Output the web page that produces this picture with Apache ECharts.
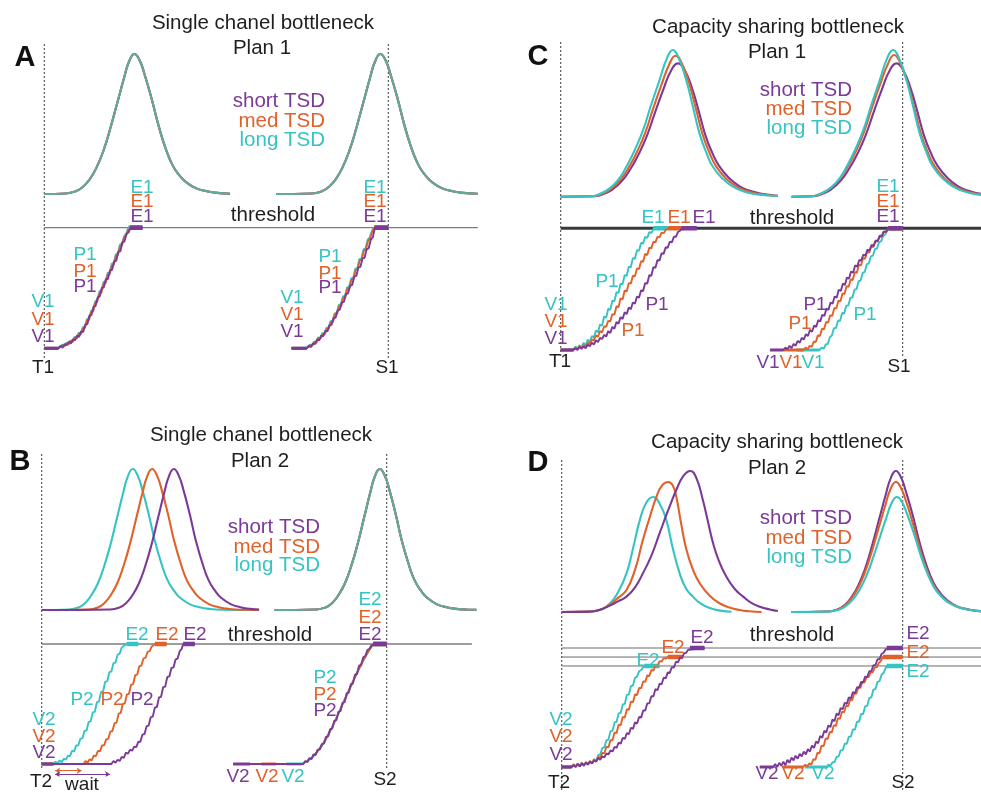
<!DOCTYPE html>
<html>
<head>
<meta charset="utf-8">
<title>Bottleneck plans</title>
<script src="https://cdn.jsdelivr.net/npm/echarts@6/dist/echarts.min.js"></script>
<style>
  html, body { margin: 0; padding: 0; background: #fff; }
  #chart { width: 981px; height: 792px; }
</style>
</head>
<body>
<div id="chart"></div>
<script>
// colours of the three TSD groups
const PURPLE = '#7b3a96', ORANGE = '#e0622a', CYAN = '#36c3c3', INK = '#1e1e1e';

// time marks: T (start) and S (deadline)
const tMark = 0, sMark = 100;

// ---------- Panel A : single channel, plan 1 ----------
const peakA1 = [[0,0],[6.2,0.4],[9.2,2],[11.2,5],[13.2,10.5],[15.2,19],[17.2,31],[19.2,47],[21.2,65],[23.2,83],[24.7,95],[26.2,100],[27.7,95.5],[29.2,85],[31.2,68],[33.2,49],[35.2,33],[37.2,21],[39.2,13.5],[41.2,8.5],[44.2,4],[47.2,2],[50.2,0.8],[54,0.2]];
const peakA2 = [[67.4,0],[77.7,0.4],[80.7,2],[82.7,5],[84.7,10.5],[86.7,19],[88.7,31],[90.7,47],[92.7,65],[94.7,83],[96.2,95],[97.7,100],[99.2,95.5],[100.7,85],[102.7,68],[104.7,49],[106.7,33],[108.7,21],[110.7,13.5],[112.7,8.5],[115.7,4],[118.7,2],[121.7,0.8],[126,0.2]];
const rampA1c = [[0,0],[4,0],[4.6,1.5],[5.2,3],[5.8,2],[6.4,4.5],[7,3.5],[7.6,6.5],[8.2,5.5],[8.8,9.5],[9.4,8.5],[10,13],[10.6,12.5],[11.2,17.5],[11.8,18],[12.4,24],[13,25],[13.6,31],[14.2,32],[14.8,39],[15.4,40],[16,47],[16.6,48],[17.2,55],[17.8,55.5],[18.4,62.5],[19,63],[19.6,70],[20.2,71],[20.8,78],[21.4,79],[22,86],[22.6,87],[23.2,93],[23.8,95],[24.4,100],[28.2,100]];
const rampA1o = [[0,0],[4,0],[4.6,1],[5.2,2.5],[5.8,1.5],[6.4,4],[7,3],[7.6,6],[8.2,5],[8.8,9],[9.4,8],[10,12],[10.6,11.5],[11.2,16.5],[11.8,17],[12.4,23],[13,23.5],[13.6,30],[14.2,30.5],[14.8,37.5],[15.4,38.5],[16,45.5],[16.6,46],[17.2,53],[17.8,54],[18.4,61],[19,61.5],[19.6,68.5],[20.2,69.5],[20.8,76.5],[21.4,77.5],[22,84.5],[22.6,85.5],[23.2,92],[23.8,93.5],[24.4,98.5],[24.8,100],[28.4,100]];
const rampA1p = [[0,0],[4.1,0],[4.7,2],[5.3,0.5],[5.9,3.5],[6.5,2.5],[7.1,5.5],[7.7,4],[8.3,7.5],[8.9,6.5],[9.5,10.5],[10.1,9.5],[10.7,14],[11.3,13.5],[11.9,19.5],[12.5,20],[13.1,27],[13.7,27.5],[14.3,34.5],[14.9,35],[15.5,42],[16.1,43],[16.7,50],[17.3,50.5],[17.9,57.5],[18.5,57.5],[19.1,64.5],[19.7,65],[20.3,72],[20.9,72.5],[21.5,80],[22.1,80.5],[22.7,88],[23.3,88.5],[23.9,95],[24.5,96],[25,100],[28.6,100]];
const rampA2c = [[71.9,0],[76,0],[76.6,1.5],[77.2,3],[77.8,2.5],[78.4,5.5],[79,5],[79.6,9],[80.2,8.5],[80.8,12.5],[81.4,12.5],[82,17],[82.6,17],[83.2,22.5],[83.8,23],[84.4,29],[85,29.5],[85.6,36],[86.2,36.5],[86.8,43],[87.4,43.5],[88,50.5],[88.6,51],[89.2,58],[89.8,58.5],[90.4,66],[91,66.5],[91.6,74],[92.2,74.5],[92.8,82],[93.4,83],[94,90],[94.6,92],[95.2,97],[95.8,100],[100,100]];
const rampA2o = [[71.9,0],[76.1,0],[76.7,1],[77.3,2.5],[77.9,2],[78.5,5],[79.1,4.5],[79.7,8.5],[80.3,8],[80.9,12],[81.5,11.5],[82.1,16],[82.7,16.5],[83.3,21.5],[83.9,22],[84.5,28],[85.1,28.5],[85.7,35],[86.3,35.5],[86.9,42],[87.5,42.5],[88.1,49.5],[88.7,50],[89.3,57],[89.9,57.5],[90.5,65],[91.1,65.5],[91.7,73],[92.3,73.5],[92.9,81],[93.5,82],[94.1,89],[94.7,91],[95.3,96.5],[95.9,100],[100,100]];
const rampA2p = [[71.9,0],[76.3,0],[76.9,2],[77.5,1],[78.1,4],[78.7,3.5],[79.3,7.5],[79.9,6.5],[80.5,10.5],[81.1,10],[81.7,14.5],[82.3,14],[82.9,19],[83.5,19.5],[84.1,25],[84.7,25.5],[85.3,31.5],[85.9,32],[86.5,38],[87.1,38.5],[87.7,45],[88.3,45.5],[88.9,52],[89.5,52.5],[90.1,59.5],[90.7,60],[91.3,67],[91.9,67.5],[92.5,74.5],[93.1,75],[93.7,82],[94.3,83],[94.9,90],[95.5,92],[96.1,100],[100,100]];
const levelsA = [100];

// ---------- Panel B : single channel, plan 2 ----------
const peakB1c = [[0,0],[8,0.4],[10.8,2],[12.6,5],[14.4,10.5],[16.3,19],[18.1,31],[20,47],[21.8,65],[23.6,83],[25,95],[26.4,100],[27.8,95.5],[29.2,85],[31,68],[32.8,49],[34.7,33],[36.5,21],[38.4,13.5],[40.2,8.5],[43,4],[45.7,2],[48.5,0.8],[52.2,0.2],[63,0]];
const peakB1o = [[0,0],[13.6,0.4],[16.4,2],[18.2,5],[20,10.5],[21.9,19],[23.7,31],[25.6,47],[27.4,65],[29.2,83],[30.6,95],[32,100],[33.4,95.5],[34.8,85],[36.6,68],[38.4,49],[40.3,33],[42.1,21],[44,13.5],[45.8,8.5],[48.6,4],[51.3,2],[54.1,0.8],[57.8,0.2],[63,0.1]];
const peakB1p = [[0,0],[19.9,0.4],[22.7,2],[24.5,5],[26.3,10.5],[28.2,19],[30,31],[31.9,47],[33.7,65],[35.5,83],[36.9,95],[38.3,100],[39.7,95.5],[41.1,85],[42.9,68],[44.7,49],[46.6,33],[48.4,21],[50.3,13.5],[52.1,8.5],[54.9,4],[57.6,2],[60.4,0.8],[63,0.4]];
const peakB2 = [[67.5,0],[79.6,0.4],[82.4,2],[84.2,5],[86,10.5],[87.9,19],[89.7,31],[91.6,47],[93.4,65],[95.2,83],[96.6,95],[98,100],[99.4,95.5],[100.8,85],[102.6,68],[104.4,49],[106.3,33],[108.1,21],[110,13.5],[111.8,8.5],[114.6,4],[117.3,2],[120.1,0.8],[123.8,0.2],[126,0.1]];
const rampB1c = [[0,0],[3.4,0],[4,2],[4.6,0.5],[5.2,3],[5.8,1.5],[6.4,4.5],[7,3.5],[7.6,7],[8.2,6.5],[8.8,11],[9.4,10.5],[10,15.5],[10.6,15.5],[11.2,21],[11.8,21.5],[12.4,27.5],[13,28],[13.6,35],[14.2,35.5],[14.8,43],[15.4,43.5],[16,51.5],[16.6,52],[17.2,60],[17.8,60.5],[18.4,68.5],[19,69],[19.6,76.5],[20.2,77],[20.8,84],[21.4,84.5],[22,91],[22.6,92],[23.2,97],[23.8,98.5],[24.6,100],[28,100]];
const rampB1o = [[0,0],[3.4,0],[12.1,0],[12.7,2.5],[13.3,1],[13.9,4],[14.5,3],[15.1,7],[15.7,6.5],[16.3,11],[16.9,10.5],[17.5,15.5],[18.1,15.5],[18.7,20.5],[19.3,21],[19.9,27],[20.5,27.5],[21.1,34],[21.7,34.5],[22.3,42],[22.9,42.5],[23.5,50],[24.1,50.5],[24.7,58],[25.3,58.5],[25.9,66],[26.5,66.5],[27.1,74],[27.7,74.5],[28.3,81.5],[28.9,82],[29.5,88],[30.1,88.5],[30.7,93.5],[31.3,94],[31.9,98],[32.8,100],[36.2,100]];
const rampB1p = [[0,0],[3.4,0],[20.2,0],[20.8,2.5],[21.4,1],[22,3.5],[22.6,2.5],[23.2,6],[23.8,5],[24.4,9.5],[25,8.5],[25.6,12],[26.2,11],[26.8,14.5],[27.4,14],[28,18.5],[28.6,18.5],[29.2,24.5],[29.8,25],[30.4,31.5],[31,32],[31.6,39],[32.2,39.5],[32.8,47],[33.4,47.5],[34,55.5],[34.6,56],[35.2,64],[35.8,64.5],[36.4,72.5],[37,73],[37.6,80],[38.2,80.5],[38.8,87],[39.4,88],[40,94],[40.6,96],[41,100],[44.4,100]];
const rampB2c = [[70.9,0],[75.3,0],[75.8,0],[76.4,1.5],[77,2.5],[77.6,3.5],[78.2,5],[78.8,6.5],[79.4,9],[80,10.5],[80.6,13.5],[81.2,15],[81.8,18.5],[82.4,20.5],[83,24.5],[83.6,27],[84.2,31],[84.8,34],[85.4,38.5],[86,41.5],[86.6,46.5],[87.2,49.5],[87.8,54],[88.4,57],[89,61.5],[89.6,64.5],[90.2,69],[90.8,72],[91.4,76.5],[92,79.5],[92.6,83.5],[93.2,86],[93.8,90],[94.4,92],[95,95.5],[95.6,97.5],[96.1,100],[100,100]];
const rampB2o = [[63.7,0],[68,0],[75.8,0],[76.4,2],[77,2],[77.6,4.5],[78.2,4.5],[78.8,7.5],[79.4,8],[80,11.5],[80.6,12.5],[81.2,16],[81.8,17.5],[82.4,21.5],[83,23.5],[83.6,28],[84.2,30],[84.8,35],[85.4,37.5],[86,42.5],[86.6,45],[87.2,50],[87.8,53],[88.4,57.5],[89,60.5],[89.6,65],[90.2,68],[90.8,72.5],[91.4,75.5],[92,79.5],[92.6,82.5],[93.2,86.5],[93.8,89],[94.4,92.5],[95,95],[95.6,98],[96.1,100],[100,100]];
const rampB2p = [[55.5,0],[60.4,0],[75.8,0],[76.4,2.5],[77,1.5],[77.6,5],[78.2,4],[78.8,8],[79.4,7.5],[80,12],[80.6,12],[81.2,16.5],[81.8,17],[82.4,22.5],[83,23],[83.6,29],[84.2,29.5],[84.8,36],[85.4,36.5],[86,43.5],[86.6,44],[87.2,51],[87.8,51.5],[88.4,59],[89,59.5],[89.6,66.5],[90.2,67],[90.8,74.5],[91.4,75],[92,82],[92.6,82.5],[93.2,89],[93.8,90],[94.4,95],[95,96],[95.6,99],[96.1,100],[100,100]];
const levelsB = [100];
const waitOrange = [[3.9,-5.6],[11.6,-5.6]];
const waitPurple = [[3.9,-8.6],[19.8,-8.6]];

// ---------- Panel C : capacity sharing, plan 1 ----------
const peakC1c = [[0,0],[9,0.3],[12,2.5],[14.3,5.7],[17,12],[19.2,20.4],[21.7,32],[24.1,45.5],[26.5,63],[28.9,79.5],[31,94],[32.8,100],[34.6,94],[36.7,79.5],[38.7,61],[40.6,43],[42.6,30],[44.5,20.4],[47.5,12],[50.4,6.8],[53.3,3.8],[56.2,2],[60,1],[63.5,0.5]];
const peakC1o = [[0,0],[9.5,0.3],[12.5,2.4],[14.8,5.5],[17.5,11.5],[19.8,19.5],[22.3,30.5],[24.7,43.5],[27.1,60.5],[29.5,76.5],[31.7,90],[33.6,96.1],[35.5,90.5],[37.6,77],[39.6,59.5],[41.5,42.5],[43.5,30],[45.5,20.5],[48.5,12],[51.4,7],[54.3,4],[57.2,2.2],[61,1],[63.5,0.6]];
const peakC1p = [[0,0],[10,0.3],[13,2.3],[15.3,5.2],[18,11],[20.3,18.5],[22.8,29],[25.2,41.5],[27.6,57.5],[30,73],[32.3,86],[34.3,90.9],[36.3,86],[38.4,74],[40.4,58],[42.3,42],[44.3,30],[46.3,21],[49.3,12.5],[52.2,7.2],[55.1,4.2],[58,2.4],[61.5,1.2],[63.5,0.7]];
const peakC2c = [[67.5,0],[73.4,0.3],[76.4,2.5],[78.7,5.7],[81.4,12],[83.6,20.4],[86.1,32],[88.5,45.5],[90.9,63],[93.3,79.5],[95.4,94],[97.2,100],[99,94],[101.1,79.5],[103.1,61],[105,43],[107,30],[108.9,20.4],[111.9,12],[114.8,6.8],[117.7,3.8],[120.6,2],[123,1.2]];
const peakC2o = [[67.5,0],[73.4,0.3],[76.4,2.4],[78.7,5.5],[81.4,11.5],[83.7,19.5],[86.2,30.5],[88.6,43.5],[91,60.5],[93.4,76.5],[95.6,90],[97.5,96.6],[99.4,90.5],[101.5,77],[103.5,59.5],[105.4,42.5],[107.4,30],[109.4,20.5],[112.4,12],[115.3,7],[118.2,4],[121.1,2.2],[123,1.5]];
const peakC2p = [[67.5,0],[73.9,0.3],[76.9,2.3],[79.2,5.2],[81.9,11],[84.2,18.5],[86.7,29],[89.1,41.5],[91.5,57.5],[93.9,73],[96.2,86],[98.2,90.9],[100.2,86],[102.3,74],[104.3,58],[106.2,42],[108.2,30],[110.2,21],[113.2,12.5],[116.1,7.2],[119,4.2],[121.9,2.4],[123,2]];
const rampC1c = [[0,0],[3.7,0],[4.3,3],[4.9,1],[5.5,4],[6.1,2],[6.7,6],[7.3,3.5],[7.9,8.5],[8.5,6.5],[9.1,11.5],[9.7,10],[10.3,16],[10.9,14.5],[11.5,21],[12.1,20],[12.7,27.5],[13.3,26.5],[13.9,34],[14.5,33],[15.1,40.5],[15.7,40],[16.3,47.5],[16.9,47],[17.5,54.5],[18.1,54],[18.7,61.5],[19.3,61],[19.9,68.5],[20.5,68],[21.1,75.5],[21.7,75],[22.3,82],[22.9,81.5],[23.5,88],[24.1,87.5],[24.7,93],[25.3,92],[25.9,97],[26.5,96],[27.2,100],[31.5,100]];
const rampC1o = [[0,0],[3.7,0],[4.3,2],[4.9,0.5],[5.5,3],[6.1,1.5],[6.7,4],[7.3,2.5],[7.9,6],[8.5,5],[9.1,8.5],[9.7,8],[10.3,12],[10.9,11],[11.5,15.5],[12.1,14.5],[12.7,19.5],[13.3,19],[13.9,24],[14.5,23.5],[15.1,29.5],[15.7,29],[16.3,36],[16.9,35],[17.5,42.5],[18.1,41.5],[18.7,49],[19.3,48],[19.9,55],[20.5,54.5],[21.1,61],[21.7,60.5],[22.3,67],[22.9,66.5],[23.5,73],[24.1,72.5],[24.7,79],[25.3,78],[25.9,84],[26.5,83.5],[27.1,89],[27.7,88.5],[28.3,93],[28.9,92.5],[29.5,96.5],[30.1,96],[30.8,99],[31.5,100],[35.9,100]];
const rampC1p = [[0,0],[3.7,0],[4.3,1.5],[4.9,0],[5.5,2.5],[6.1,1],[6.7,3],[7.3,1.5],[7.9,4.5],[8.5,3],[9.1,6],[9.7,4.5],[10.3,8],[10.9,6.5],[11.5,10],[12.1,9],[12.7,12.5],[13.3,11],[13.9,15.5],[14.5,14],[15.1,19],[15.7,17.5],[16.3,23],[16.9,21.5],[17.5,27],[18.1,25.5],[18.7,31],[19.3,29.5],[19.9,35],[20.5,33.5],[21.1,39],[21.7,38],[22.3,44],[22.9,43],[23.5,49],[24.1,48.5],[24.7,55],[25.3,54.5],[25.9,61.5],[26.5,61],[27.1,68],[27.7,67.5],[28.3,74],[28.9,73.5],[29.5,79.5],[30.1,79],[30.7,84.5],[31.3,84],[31.9,89],[32.5,88.5],[33.1,93],[33.7,93],[34.3,97],[34.9,98],[35.4,100],[39.8,100]];
const rampC2c = [[68.9,0],[75.7,0],[76.3,2],[76.9,1],[77.5,4.5],[78.1,5],[78.7,10.5],[79.3,12],[79.9,18],[80.5,18],[81.1,24],[81.7,24],[82.3,30.5],[82.9,30],[83.5,36.5],[84.1,36.5],[84.7,43],[85.3,43],[85.9,49.5],[86.5,50],[87.1,56.5],[87.7,57],[88.3,63.5],[88.9,64],[89.5,70.5],[90.1,71],[90.7,77],[91.3,77.5],[91.9,83],[92.5,83.5],[93.1,88.5],[93.7,89.5],[94.3,93.5],[94.9,95],[95.5,98],[96.1,100],[100,100]];
const rampC2o = [[65.1,0],[71,0],[71.6,2],[72.2,0.5],[72.8,3.5],[73.4,2.5],[74,7],[74.6,6.5],[75.2,12],[75.8,11.5],[76.4,17.5],[77,17],[77.6,23],[78.2,22.5],[78.8,28.5],[79.4,28],[80,34.5],[80.6,34],[81.2,40.5],[81.8,40],[82.4,46.5],[83,46],[83.6,52.5],[84.2,52],[84.8,58],[85.4,57.5],[86,64],[86.6,63.5],[87.2,70],[87.8,69.5],[88.4,75.5],[89,75],[89.6,80.5],[90.2,80],[90.8,85],[91.4,84.5],[92,89.5],[92.6,89],[93.2,93],[93.8,93],[94.4,97],[95,97],[95.8,100],[100,100]];
const rampC2p = [[61.2,0],[65.1,0],[65.7,2],[66.3,0.5],[66.9,3.5],[67.5,1.5],[68.1,5],[68.7,3.5],[69.3,7.5],[69.9,6],[70.5,10],[71.1,8.5],[71.7,13],[72.3,11.5],[72.9,16.5],[73.5,15],[74.1,20],[74.7,19],[75.3,24.5],[75.9,23.5],[76.5,29],[77.1,28],[77.7,34],[78.3,33],[78.9,39],[79.5,38],[80.1,44],[80.7,43],[81.3,49.5],[81.9,48.5],[82.5,54.5],[83.1,53.5],[83.7,59.5],[84.3,58.5],[84.9,64.5],[85.5,63.5],[86.1,69.5],[86.7,68.5],[87.3,74],[87.9,73.5],[88.5,78.5],[89.1,77.5],[89.7,82.5],[90.3,81.5],[90.9,86.5],[91.5,85.5],[92.1,90],[92.7,89.5],[93.3,94],[93.9,93.5],[94.5,97.5],[95.1,97],[95.8,100],[100,100]];
const levelsC = [100];

// ---------- Panel D : capacity sharing, plan 2 ----------
const peakD1c = [[0,0],[8,0.2],[11,1.2],[14.1,6],[16.5,14],[19,27.4],[21,46],[22.9,65],[24.8,77.5],[26.8,81.6],[28.7,77],[30.7,65],[32.6,45],[34.6,27.4],[36.5,16.5],[38.5,10.9],[40.5,6.5],[43.4,2.8],[46.5,1],[49.8,0.2]];
const peakD1o = [[0,0],[8,0.3],[11,1.5],[14.1,5],[16.5,10],[19,15.6],[21.5,30],[23.8,51],[25.8,67],[27.8,81.8],[29.5,90],[31.2,92.2],[32.5,90],[33.6,81.8],[35,63],[36.6,44],[38.5,30],[40.5,20.3],[43.4,11.5],[46.3,6.2],[49.2,3.2],[52.2,1.4],[55,0.5],[58.6,0]];
const peakD1p = [[0,0],[8,0.3],[11,1.5],[14.1,4.5],[16.5,7.5],[19,10.9],[21.5,17.5],[23.8,27.4],[26.3,40],[28.7,55.8],[31.2,72],[33.6,86.5],[35.7,96.5],[37.7,100],[39.5,95],[41.4,79.4],[42.9,64],[44.4,48.7],[46.3,35],[48.3,25],[50.7,16.5],[53.2,10.9],[55.6,6.5],[58.1,3.8],[61,1.8],[63.4,0.7]];
const peakD2c = [[67.4,0],[78.3,0.3],[81.3,1.6],[83.3,4.1],[85.3,8.6],[87.3,15.5],[89.3,25.3],[91.3,38.4],[93.3,53],[95.3,67.7],[96.8,77.5],[98.3,81.6],[99.8,78],[101.3,69.4],[103.3,55.5],[105.3,40],[107.3,27],[109.3,17.1],[111.3,11],[113.3,6.9],[116.3,3.3],[119.3,1.6],[122.3,0.7],[123,0.6]];
const peakD2o = [[67.4,0],[78,0.4],[81,1.8],[83,4.6],[85,9.7],[87,17.5],[89,28.6],[91,43.3],[93,60],[95,76.5],[96.5,87.6],[98,92.2],[99.5,88],[101,78.4],[103,62.7],[105,45.2],[107,30.4],[109,19.4],[111,12.4],[113,7.8],[116,3.7],[119,1.8],[122,0.7],[123,0.6]];
const peakD2p = [[67.4,0],[78,0.4],[81,2],[83,5],[85,10.5],[87,19],[89,31],[91,47],[93,65],[95,83],[96.5,95],[98,100],[99.5,95.5],[101,85],[103,68],[105,49],[107,33],[109,21],[111,13.5],[113,8.5],[116,4],[119,2],[122,0.8],[123,0.6]];
const rampD1c = [[0,0],[2.9,0],[3.5,2.5],[4.1,0.5],[4.7,3],[5.3,1],[5.9,3.5],[6.5,1.5],[7.1,4],[7.7,2],[8.3,5],[8.9,3],[9.5,6.5],[10.1,5],[10.7,10],[11.3,10.5],[11.9,16],[12.5,16.5],[13.1,22.5],[13.7,23],[14.3,30],[14.9,30.5],[15.5,37.5],[16.1,38],[16.7,45],[17.3,45.5],[17.9,52.5],[18.5,53],[19.1,60.5],[19.7,61],[20.3,68],[20.9,68.5],[21.5,75],[22.1,76],[22.7,80.5],[23.3,81.5],[23.9,84],[24.3,84.9],[28.7,84.9]];
const rampD1o = [[0,0],[2.9,0],[3.5,2],[4.1,0],[4.7,3],[5.3,0.5],[5.9,3.5],[6.5,1.5],[7.1,4],[7.7,2.5],[8.3,5],[8.9,3],[9.5,6.5],[10.1,4.5],[10.7,8.5],[11.3,7.5],[11.9,12],[12.5,11.5],[13.1,17],[13.7,16.5],[14.3,22.5],[14.9,22.5],[15.5,29],[16.1,28.5],[16.7,35.5],[17.3,35],[17.9,42],[18.5,41.5],[19.1,48.5],[19.7,48],[20.3,55],[20.9,54.5],[21.5,61],[22.1,60.5],[22.7,66.5],[23.3,66],[23.9,72],[24.5,71.5],[25.1,77],[25.7,76.5],[26.3,81.5],[26.9,81],[27.5,85.5],[28.1,85],[28.7,89],[29.3,88.5],[29.9,91.5],[30.5,91],[31.1,92.4],[35.6,92.4]];
const rampD1p = [[0,0],[2.9,0],[3.5,1.5],[4.1,0],[4.7,2.5],[5.3,0.5],[5.9,3],[6.5,1],[7.1,3.5],[7.7,2],[8.3,4.5],[8.9,3],[9.5,5.5],[10.1,4.5],[10.7,7.5],[11.3,6],[11.9,9],[12.5,8],[13.1,11.5],[13.7,10.5],[14.3,14],[14.9,13],[15.5,17],[16.1,16],[16.7,20.5],[17.3,19.5],[17.9,24.5],[18.5,23.5],[19.1,28.5],[19.7,27.5],[20.3,33],[20.9,32],[21.5,37.5],[22.1,36.5],[22.7,42],[23.3,41.5],[23.9,47.5],[24.5,47.5],[25.1,53.5],[25.7,53.5],[26.3,59.5],[26.9,59.5],[27.5,65.5],[28.1,64.5],[28.7,70],[29.3,69.5],[29.9,75],[30.5,74.5],[31.1,79.5],[31.7,79],[32.3,84],[32.9,83.5],[33.5,88.5],[34.1,88],[34.7,92],[35.3,92],[35.9,95.5],[36.5,96],[37.1,98.5],[37.6,100],[41.9,100]];
const rampD2c = [[71.3,0],[77.6,0],[78.2,2],[78.8,1],[79.4,4],[80,4],[80.6,8.5],[81.2,9],[81.8,14],[82.4,14],[83,19.5],[83.6,19.5],[84.2,25.5],[84.8,25.5],[85.4,31.5],[86,31.5],[86.6,38],[87.2,38],[87.8,44.5],[88.4,44.5],[89,51],[89.6,51.5],[90.2,58],[90.8,58.5],[91.4,65],[92,65.5],[92.6,71.5],[93.2,72],[93.8,77.5],[94.4,79],[95,83],[95.3,84.9],[100,84.9]];
const rampD2o = [[64.9,0],[70.8,0],[71.4,2],[72,0.5],[72.6,3],[73.2,2],[73.8,6.5],[74.4,6],[75,12],[75.6,11.5],[76.2,18],[76.8,17.5],[77.4,24],[78,23.5],[78.6,29.5],[79.2,29],[79.8,35],[80.4,34.5],[81,41],[81.6,40.5],[82.2,46.5],[82.8,46],[83.4,51.5],[84,51],[84.6,56.5],[85.2,56],[85.8,62],[86.4,61.5],[87,67],[87.6,66.5],[88.2,71.5],[88.8,71],[89.4,75.5],[90,75.5],[90.6,79.5],[91.2,79.5],[91.8,83.5],[92.4,84],[93,87.5],[93.6,89],[94.2,92.4],[100,92.4]];
const rampD2p = [[58.1,0],[62,0],[62.6,2.5],[63.2,0],[63.8,3.5],[64.4,1],[65,4.5],[65.6,1.5],[66.2,6],[66.8,3.5],[67.4,8],[68,5.5],[68.6,9.5],[69.2,7],[69.8,11],[70.4,9],[71,13],[71.6,10.5],[72.2,15],[72.8,13],[73.4,18],[74,16],[74.6,21.5],[75.2,20],[75.8,26],[76.4,24.5],[77,30.5],[77.6,29],[78.2,35],[78.8,33.5],[79.4,40],[80,38.5],[80.6,45],[81.2,43.5],[81.8,49.5],[82.4,48.5],[83,54],[83.6,53],[84.2,58.5],[84.8,57.5],[85.4,63],[86,62],[86.6,67],[87.2,66.5],[87.8,71.5],[88.4,71],[89,76],[89.6,75.5],[90.2,80.5],[90.8,80.5],[91.4,85.5],[92,85.5],[92.6,90.5],[93.2,90.5],[93.8,95],[94.4,96],[95,99],[95.3,100],[100,100]];
const levelsD = [100, 92.4, 84.9];

// ---------- layout (pixels) ----------
const Y_LOW = -10;
const layout = [
  { left: 44.3,  unit: 3.44, xMax: 130,   frame: [43, 358],  top: [54, 140],   bottom: [227.7, 120.6], levelEnd: 126,   levelStyle: { color: '#7c7c7c', width: 1.3 } },
  { left: 41.7,  unit: 3.45, xMax: 130,   frame: [453, 768], top: [469, 141],  bottom: [644, 120],     levelEnd: 124.7, levelStyle: { color: '#7c7c7c', width: 1.3 } },
  { left: 560.7, unit: 3.42, xMax: 122.9, frame: [40, 356],  top: [50, 146.7], bottom: [228.3, 121.7], levelEnd: 130,   levelStyle: { color: '#3a3a3a', width: 3 } },
  { left: 561.7, unit: 3.41, xMax: 122.9, frame: [458, 790], top: [471, 141],  bottom: [648, 119],     levelEnd: 130,   levelStyle: { color: '#6a6a6a', width: 1 } }
];

// [data, colour, opacity]
const panels = [
  { peaks: [[peakA1, PURPLE], [peakA1, ORANGE], [peakA1, CYAN, 0.75], [peakA2, PURPLE], [peakA2, ORANGE], [peakA2, CYAN, 0.75]],
    ramps: [[rampA1c, CYAN], [rampA1o, ORANGE], [rampA1p, PURPLE], [rampA2c, CYAN], [rampA2o, ORANGE], [rampA2p, PURPLE]],
    levels: levelsA },
  { peaks: [[peakB1c, CYAN], [peakB1o, ORANGE], [peakB1p, PURPLE], [peakB2, PURPLE], [peakB2, ORANGE], [peakB2, CYAN, 0.75]],
    ramps: [[rampB1c, CYAN], [rampB1o, ORANGE], [rampB1p, PURPLE], [rampB2c, CYAN], [rampB2o, ORANGE], [rampB2p, PURPLE]],
    levels: levelsB },
  { peaks: [[peakC1p, PURPLE], [peakC1o, ORANGE], [peakC1c, CYAN], [peakC2p, PURPLE], [peakC2o, ORANGE], [peakC2c, CYAN]],
    ramps: [[rampC1c, CYAN], [rampC1o, ORANGE], [rampC1p, PURPLE], [rampC2c, CYAN], [rampC2o, ORANGE], [rampC2p, PURPLE]],
    levels: levelsC },
  { peaks: [[peakD1c, CYAN], [peakD1o, ORANGE], [peakD1p, PURPLE], [peakD2p, PURPLE], [peakD2o, ORANGE], [peakD2c, CYAN]],
    ramps: [[rampD1c, CYAN], [rampD1o, ORANGE], [rampD1p, PURPLE], [rampD2c, CYAN], [rampD2o, ORANGE], [rampD2p, PURPLE]],
    levels: levelsD }
];

// text: [text, x, y, colour, kind, align]
const notes = [
  ['Single chanel bottleneck', 263, 23, INK, 't'], ['Plan 1', 262, 48, INK, 't'],
  ['short TSD', 325, 101, PURPLE, 't', 'right'], ['med TSD', 325, 121, ORANGE, 't', 'right'], ['long TSD', 325, 140, CYAN, 't', 'right'],
  ['E1', 142, 188, CYAN], ['E1', 142, 202, ORANGE], ['E1', 142, 217, PURPLE],
  ['threshold', 273, 215, INK, 't'],
  ['E1', 375, 188, CYAN], ['E1', 375, 202, ORANGE], ['E1', 375, 217, PURPLE],
  ['P1', 85, 255, CYAN], ['P1', 85, 272, ORANGE], ['P1', 85, 287, PURPLE],
  ['V1', 43, 302, CYAN], ['V1', 43, 320, ORANGE], ['V1', 43, 337, PURPLE],
  ['T1', 43, 368, INK],
  ['P1', 330, 257, CYAN], ['P1', 330, 274, ORANGE], ['P1', 330, 288, PURPLE],
  ['V1', 292, 298, CYAN], ['V1', 292, 315, ORANGE], ['V1', 292, 332, PURPLE],
  ['S1', 387, 368, INK],

  ['Single chanel bottleneck', 261, 435, INK, 't'], ['Plan 2', 260, 461, INK, 't'],
  ['short TSD', 320, 527, PURPLE, 't', 'right'], ['med TSD', 320, 547, ORANGE, 't', 'right'], ['long TSD', 320, 565, CYAN, 't', 'right'],
  ['E2', 137, 635, CYAN], ['E2', 167, 635, ORANGE], ['E2', 195, 635, PURPLE],
  ['threshold', 270, 635, INK, 't'],
  ['E2', 370, 600, CYAN], ['E2', 370, 618, ORANGE], ['E2', 370, 635, PURPLE],
  ['P2', 82, 700, CYAN], ['P2', 112, 700, ORANGE], ['P2', 142, 700, PURPLE],
  ['V2', 44, 720, CYAN], ['V2', 44, 737, ORANGE], ['V2', 44, 753, PURPLE],
  ['T2', 41, 782, INK], ['wait', 82, 785, INK],
  ['P2', 325, 678, CYAN], ['P2', 325, 695, ORANGE], ['P2', 325, 711, PURPLE],
  ['V2', 238, 777, PURPLE], ['V2', 267, 777, ORANGE], ['V2', 293, 777, CYAN],
  ['S2', 385, 780, INK],

  ['Capacity sharing bottleneck', 778, 27, INK, 't'], ['Plan 1', 777, 52, INK, 't'],
  ['short TSD', 852, 90, PURPLE, 't', 'right'], ['med TSD', 852, 109, ORANGE, 't', 'right'], ['long TSD', 852, 128, CYAN, 't', 'right'],
  ['E1', 653, 218, CYAN], ['E1', 679, 218, ORANGE], ['E1', 704, 218, PURPLE],
  ['threshold', 792, 218, INK, 't'],
  ['E1', 888, 187, CYAN], ['E1', 888, 202, ORANGE], ['E1', 888, 217, PURPLE],
  ['V1', 556, 305, CYAN], ['V1', 556, 322, ORANGE], ['V1', 556, 339, PURPLE],
  ['T1', 560, 362, INK],
  ['P1', 607, 282, CYAN], ['P1', 657, 305, PURPLE], ['P1', 633, 331, ORANGE],
  ['P1', 815, 305, PURPLE], ['P1', 800, 324, ORANGE], ['P1', 865, 315, CYAN],
  ['V1', 768, 363, PURPLE], ['V1', 791, 363, ORANGE], ['V1', 813, 363, CYAN],
  ['S1', 899, 367, INK],

  ['Capacity sharing bottleneck', 777, 442, INK, 't'], ['Plan 2', 777, 468, INK, 't'],
  ['short TSD', 852, 518, PURPLE, 't', 'right'], ['med TSD', 852, 538, ORANGE, 't', 'right'], ['long TSD', 852, 557, CYAN, 't', 'right'],
  ['threshold', 792, 635, INK, 't'],
  ['E2', 702, 638, PURPLE], ['E2', 673, 648, ORANGE], ['E2', 648, 661, CYAN],
  ['E2', 918, 634, PURPLE], ['E2', 918, 653, ORANGE], ['E2', 918, 672, CYAN],
  ['V2', 561, 720, CYAN], ['V2', 561, 737, ORANGE], ['V2', 561, 755, PURPLE],
  ['T2', 559, 783, INK],
  ['V2', 767, 774, PURPLE], ['V2', 793, 774, ORANGE], ['V2', 823, 774, CYAN],
  ['S2', 903, 783, INK]
];
const letters = [['A', 25, 58], ['B', 20, 462], ['C', 538, 57], ['D', 538, 463]];

// ---------- build option ----------
const FONT = '"Liberation Sans", Arial, sans-serif';
const grid = [], xAxis = [], yAxis = [], series = [];

function lineSeries(gi, data, color, width, extra) {
  return Object.assign({
    type: 'line', xAxisIndex: gi, yAxisIndex: gi, data: data,
    symbol: 'none', showSymbol: false, clip: false, silent: true, animation: false,
    lineStyle: { color: color, width: width }
  }, extra || {});
}

layout.forEach(function (L, p) {
  const w = L.unit * L.xMax;
  const g = 3 * p;
  grid.push({ left: L.left, top: L.frame[0], width: w, height: L.frame[1] - L.frame[0] });
  grid.push({ left: L.left, top: L.top[0], width: w, height: L.top[1] });
  grid.push({ left: L.left, top: L.bottom[0], width: w, height: L.bottom[1] * (100 - Y_LOW) / 100 });
  for (let k = 0; k < 3; k++) {
    xAxis.push({ gridIndex: g + k, type: 'value', min: 0, max: L.xMax, show: false });
  }
  yAxis.push({ gridIndex: g, type: 'value', min: 0, max: 1, show: false });
  yAxis.push({ gridIndex: g + 1, type: 'value', min: 0, max: 100, show: false });
  yAxis.push({ gridIndex: g + 2, type: 'value', min: Y_LOW, max: 100, show: false });

  // dotted T and S marks
  [tMark, sMark].forEach(function (m) {
    series.push(lineSeries(g, [[m, 0], [m, 1]], '#4a4a4a', 1.1, { lineStyle: { color: '#4a4a4a', width: 1.1, type: [2, 2] } }));
  });

  const P = panels[p];
  // threshold line(s)
  P.levels.forEach(function (lv) {
    series.push(lineSeries(g + 2, [[0, lv], [L.levelEnd, lv]], L.levelStyle.color, L.levelStyle.width));
  });
  // arrival curves
  P.peaks.forEach(function (pk) {
    series.push(lineSeries(g + 1, pk[0], pk[1], 2.1, {
      smooth: 0.5,
      lineStyle: { color: pk[1], width: 2.1, opacity: pk[2] || 1 }
    }));
  });
  // cumulative ramps with their start (V) and end (E) bars
  P.ramps.forEach(function (r) {
    const d = r[0];
    series.push(lineSeries(g + 2, d, r[1], 1.9));
    series.push(lineSeries(g + 2, d.slice(0, 2), r[1], 3));
    series.push(lineSeries(g + 2, d.slice(-2), r[1], 4.5));
  });
});

// wait arrows in panel B
[[waitOrange, ORANGE], [waitPurple, PURPLE]].forEach(function (a) {
  series.push({
    type: 'lines', coordinateSystem: 'cartesian2d', xAxisIndex: 5, yAxisIndex: 5,
    silent: true, animation: false, symbol: ['arrow', 'arrow'], symbolSize: 5,
    lineStyle: { color: a[1], width: 1, opacity: 1 },
    data: [{ coords: a[0] }]
  });
});

const graphic = notes.map(function (n) {
  const size = n[4] === 't' ? 20.5 : 19;
  return {
    type: 'text', x: n[1], y: n[2], silent: true, z: 100,
    style: { text: n[0], fill: n[3], font: size + 'px ' + FONT, textAlign: n[5] || 'center', textVerticalAlign: 'middle' }
  };
}).concat(letters.map(function (n) {
  return {
    type: 'text', x: n[1], y: n[2], silent: true, z: 100,
    style: { text: n[0], fill: '#111', font: 'bold 29px ' + FONT, textAlign: 'center', textVerticalAlign: 'middle' }
  };
}));

const chart = echarts.init(document.getElementById('chart'), null, { renderer: 'canvas' });
chart.setOption({
  backgroundColor: '#ffffff',
  animation: false,
  grid: grid, xAxis: xAxis, yAxis: yAxis,
  series: series,
  graphic: graphic
});
</script>
</body>
</html>
